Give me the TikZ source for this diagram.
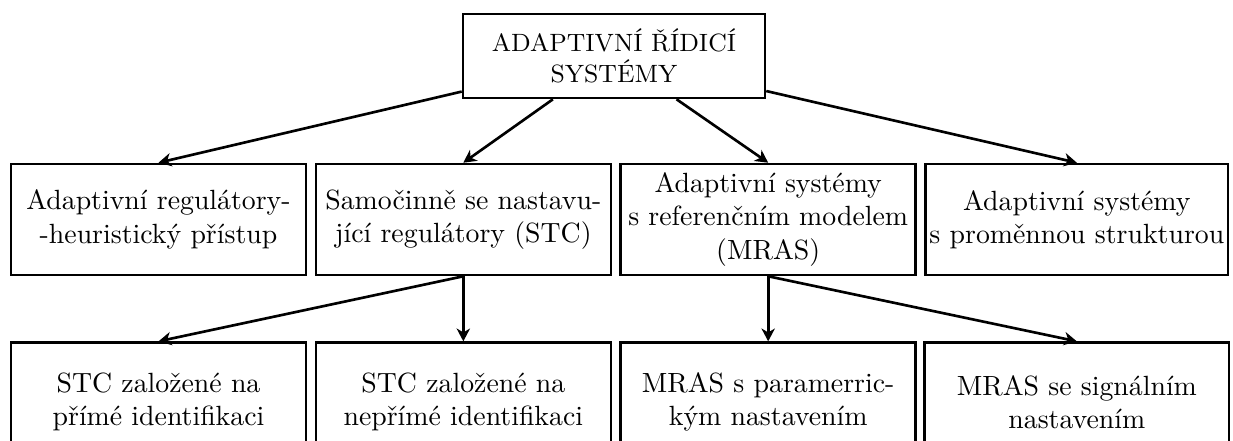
\documentclass[tikz,border=0pt]{standalone}
\usepackage{fontspec}
\usetikzlibrary{positioning, arrows.meta}

\begin{document}
\begin{tikzpicture}[x=0.3597pt, y=-0.3597pt, >={Stealth[length=4.6pt, width=4.8pt, inset=1.4pt]},
    box/.style={draw, line width=0.95pt, align=center, inner sep=1pt, minimum width=106.1pt, minimum height=39.9pt},
    lowbox/.style={box, minimum height=42.8pt},
    topbox/.style={box, font=\small, minimum width=108.6pt, minimum height=30.2pt}]

            \useasboundingbox (0,0) rectangle (1233,441);

            \node[topbox] (root) at (614,56) {ADAPTIVNÍ ŘÍDICÍ\\SYSTÉMY};

            \node[box] (heur) at (158.5,219.5) {Adaptivní regulátory-\\-heuristický přístup};
            \node[box, right=2.6pt of heur] (stc) {Samočinně se nastavu-\\jící regulátory (STC)};
            \node[box, right=2.6pt of stc] (mras) {Adaptivní systémy\\s referenčním modelem\\(MRAS)};
            \node[box, inner sep=1.4pt, right=2.6pt of mras] (var) {Adaptivní systémy\\s proměnnou strukturou};

            \node[lowbox, below=23.4pt of heur] (stcdir) {STC založené na\\přímé identifikaci};
            \node[lowbox, below=23.4pt of stc] (stcind) {STC založené na\\nepřímé identifikaci};
            \node[lowbox, below=23.4pt of mras] (mrpar) {MRAS s paramerric-\\kým nastavením};
            \node[lowbox, minimum width=109.4pt, below=23.4pt of var] (mrsig) {MRAS se signálním\\nastavením};

            \draw[->, line width=0.95pt] (root) -- (heur.north);
            \draw[->, line width=0.95pt] (root) -- (stc.north);
            \draw[->, line width=0.95pt] (root) -- (mras.north);
            \draw[->, line width=0.95pt] (root) -- (var.north);
            \draw[->, line width=0.95pt] (stc.south) -- (stcdir.north);
            \draw[->, line width=0.95pt] (stc.south) -- (stcind.north);
            \draw[->, line width=0.95pt] (mras.south) -- (mrpar.north);
            \draw[->, line width=0.95pt] (mras.south) -- (mrsig.north);

        \end{tikzpicture}
\end{document}
